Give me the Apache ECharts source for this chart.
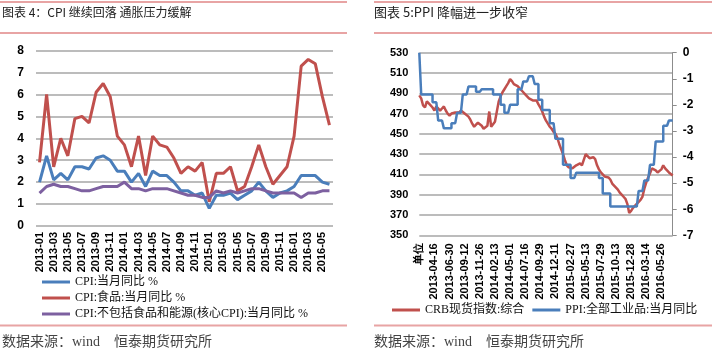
<!DOCTYPE html>
<html>
<head>
    <meta charset="utf-8">
    <title>CPI继续回落 / PPI降幅收窄</title>
    <script src="https://cdn.jsdelivr.net/npm/echarts@6/dist/echarts.min.js"></script>
    <style>
        html, body { margin: 0; padding: 0; background: #fff; }
        #chart { width: 712px; height: 354px; }
    </style>
</head>
<body>
<div id="chart"></div>
<script type="text/javascript">
    // 图表4：CPI 月度数据
    var cpiMonths = ['2013-01','2013-02','2013-03','2013-04','2013-05','2013-06','2013-07','2013-08','2013-09','2013-10','2013-11','2013-12',
        '2014-01','2014-02','2014-03','2014-04','2014-05','2014-06','2014-07','2014-08','2014-09','2014-10','2014-11','2014-12',
        '2015-01','2015-02','2015-03','2015-04','2015-05','2015-06','2015-07','2015-08','2015-09','2015-10','2015-11','2015-12',
        '2016-01','2016-02','2016-03','2016-04','2016-05','2016-06'];
    var cpiAll = [2.0,3.2,2.1,2.4,2.1,2.7,2.7,2.6,3.1,3.2,3.0,2.5, 2.5,2.0,2.4,1.8,2.5,2.3,2.3,2.0,1.6,1.6,1.4,1.5,
        0.8,1.4,1.4,1.5,1.2,1.4,1.6,2.0,1.6,1.3,1.5,1.6, 1.8,2.3,2.3,2.3,2.0,1.9];
    var cpiFood = [2.9,6.0,2.7,4.0,3.2,4.9,5.0,4.7,6.1,6.5,5.9,4.1, 3.7,2.7,4.1,2.3,4.1,3.7,3.6,3.1,2.4,2.7,2.5,2.9,
        1.1,2.4,2.4,2.7,1.6,1.8,2.7,3.7,2.7,1.9,2.3,2.7, 4.1,7.3,7.6,7.4,5.9,4.6];
    var cpiCore = [1.5,1.8,1.9,1.8,1.8,1.7,1.6,1.6,1.7,1.8,1.8,1.8, 2.0,1.7,1.7,1.6,1.7,1.7,1.7,1.6,1.5,1.4,1.4,1.3,
        1.3,1.6,1.5,1.6,1.5,1.6,1.7,1.7,1.6,1.5,1.5,1.5, 1.5,1.3,1.5,1.5,1.6,1.6];

    // 图表5：CRB 日度(抽样) 与 PPI
    var crbTicks = ['单位','2013-04-16','2013-06-30','2013-09-12','2013-11-26','2014-02-13','2014-05-01','2014-07-16',
        '2014-09-29','2014-12-11','2015-02-27','2015-05-13','2015-07-29','2015-10-13','2015-12-28','2016-03-14','2016-05-26'];
    var crbValues = [
        488,485,478,476,482,480,478,476,473,477, 476,473,475,477,473,470,468,470,469,471,
        470,471,473,472,470,469,467,464,460,457, 459,461,462,458,455,456,458,472,457,458,
        462,472,482,487,491,494,497,500,504,502, 499,500,497,498,493,491,489,487,485,484,
        483,484,483,479,476,472,467,463,460,457, 455,452,450,446,440,435,430,424,419,417,
        418,416,417,419,419,421,419,420,430,428, 426,427,427,425,419,415,412,410,408,409,
        407,405,401,399,397,395,392,390,388,386, 381,372,374,377,379,381,383,385,388,396,
        402,407,411,416,417,414,412,411,415,419, 416,414,412,411,409];
    var ppiValues = [
        0,-1.6,-1.6,-1.6,-1.6,-1.6,-1.6,-1.9,-1.9,-1.9, -2.6,-2.6,-2.6,-2.9,-2.9,-2.9,-2.9,-2.7,-2.7,-2.7,
        -2.3,-2.3,-2.3,-1.6,-1.6,-1.6,-1.3,-1.3,-1.3,-1.3, -1.5,-1.5,-1.5,-1.4,-1.4,-1.4,-1.4,-1.4,-1.4,-1.6,
        -1.6,-1.6,-1.6,-2.0,-2.0,-2.3,-2.3,-2.3,-2.0,-2.0, -2.0,-2.0,-1.4,-1.4,-1.4,-1.1,-1.1,-1.1,-0.9,-0.9,
        -0.9,-1.2,-1.2,-1.8,-1.8,-2.2,-2.2,-2.2,-2.2,-2.7, -2.7,-2.7,-3.3,-3.3,-3.3,-3.3,-4.3,-4.3,-4.3,-4.3,
        -4.8,-4.8,-4.8,-4.6,-4.6,-4.6,-4.6,-4.6,-4.6,-4.6, -4.6,-4.6,-4.6,-4.6,-4.6,-4.8,-4.8,-5.4,-5.4,-5.4,
        -5.4,-5.9,-5.9,-5.9,-5.9,-5.9,-5.9,-5.9,-5.9,-5.9, -5.9,-5.9,-5.9,-5.9,-5.9,-5.9,-5.3,-5.3,-5.3,-4.9,
        -4.9,-4.9,-4.3,-4.3,-4.3,-3.4,-3.4,-3.4,-3.4,-2.8, -2.8,-2.8,-2.6,-2.6,-2.6];
    var crbBase = 350;   // 左轴从350起，每格20
    var crbStep = 8;     // 每个刻度标签之间的点数

    var crbCats = crbValues.map(function (v, i) {
        return i % crbStep === 0 ? crbTicks[i / crbStep] : '';
    });

    var blue = '#4a7ebb', red = '#c0504d', purple = '#7d60a0';
    var gridGray = '#a6a6a6';
    var numFont = 'Liberation Sans';
    var cnFont = '"Liberation Serif", "Noto Sans CJK SC"';

    var myChart = echarts.init(document.getElementById('chart'));

    function pinkLine(x1, x2, y) {
        return { type: 'line', shape: { x1: x1, y1: y, x2: x2, y2: y }, style: { stroke: '#e8a4a4', lineWidth: 2 } };
    }

    myChart.setOption({
        animation: false,
        title: [
            { text: '图表 4：CPI 继续回落 通胀压力缓解', left: 2, top: 6, padding: 0,
              textStyle: { fontSize: 12, fontWeight: 'normal', color: '#222', fontFamily: 'Noto Sans CJK SC' } },
            { text: '图表 5:PPI 降幅进一步收窄', left: 374, top: 6, padding: 0,
              textStyle: { fontSize: 13, fontWeight: 'normal', color: '#222', fontFamily: 'Noto Sans CJK SC' } },
            { text: '数据来源：wind    恒泰期货研究所', left: 2, top: 335, padding: 0,
              textStyle: { fontSize: 14, fontWeight: 'normal', color: '#444', fontFamily: cnFont } },
            { text: '数据来源：wind    恒泰期货研究所', left: 374, top: 335, padding: 0,
              textStyle: { fontSize: 14, fontWeight: 'normal', color: '#444', fontFamily: cnFont } }
        ],
        graphic: [
            pinkLine(0, 347, 2), pinkLine(0, 347, 33), pinkLine(0, 347, 325.5),
            pinkLine(374, 712, 2), pinkLine(374, 712, 33), pinkLine(374, 712, 325.5)
        ],
        legend: [
            { data: ['CPI:当月同比 %', 'CPI:食品:当月同比 %', 'CPI:不包括食品和能源(核心CPI):当月同比 %'],
              orient: 'vertical', left: 42, top: 275, padding: 0, icon: 'rect', itemWidth: 28, itemHeight: 3, itemGap: 2,
              textStyle: { fontSize: 12, lineHeight: 14, color: '#111', fontFamily: cnFont } },
            { data: ['CRB现货指数:综合', 'PPI:全部工业品:当月同比'],
              orient: 'horizontal', left: 392, top: 303, padding: 0, icon: 'rect', itemWidth: 28, itemHeight: 3, itemGap: 8,
              textStyle: { fontSize: 12, lineHeight: 14, color: '#111', fontFamily: cnFont } }
        ],
        grid: [
            { left: 36, top: 50.7, width: 297, height: 175.2 },
            { left: 419.3, top: 52.7, width: 253.4, height: 182.6 }
        ],
        xAxis: [
            { type: 'category', gridIndex: 0, data: cpiMonths, boundaryGap: true,
              axisLine: { show: false }, axisTick: { show: false },
              axisLabel: { interval: 1, rotate: 90, margin: 6, fontSize: 11, fontWeight: 'bold', color: '#000', fontFamily: numFont } },
            { type: 'category', gridIndex: 1, data: crbCats, boundaryGap: false,
              axisLine: { show: false }, axisTick: { show: false },
              axisLabel: { interval: crbStep - 1, rotate: 90, margin: 8, fontSize: 11, fontWeight: 'bold', color: '#000', fontFamily: numFont } }
        ],
        yAxis: [
            { type: 'value', gridIndex: 0, min: 0, max: 8, interval: 1,
              axisLine: { show: false }, axisTick: { show: false },
              axisLabel: { margin: 12, fontSize: 12, fontWeight: 'bold', color: '#000', fontFamily: numFont },
              splitLine: { lineStyle: { color: gridGray, width: 1.5 } } },
            { type: 'value', gridIndex: 1, position: 'left', min: 0, max: 180, interval: 20,
              axisLine: { show: false }, axisTick: { show: false },
              axisLabel: { margin: 11, fontSize: 11, fontWeight: 'bold', color: '#000', fontFamily: numFont,
                  formatter: function (v) { return v + crbBase; } },
              splitLine: { lineStyle: { color: gridGray, width: 1.5 } } },
            { type: 'value', gridIndex: 1, position: 'right', min: -7, max: 0, interval: 1,
              axisLine: { show: true, lineStyle: { color: '#8c8c8c', width: 1 } },
              axisTick: { show: true, inside: false, length: 4, lineStyle: { color: '#8c8c8c' } },
              axisLabel: { margin: 10, fontSize: 12, fontWeight: 'bold', color: '#000', fontFamily: numFont },
              splitLine: { show: false } }
        ],
        series: [
            { name: 'CPI:当月同比 %', type: 'line', xAxisIndex: 0, yAxisIndex: 0, data: cpiAll,
              symbol: 'none', color: blue, lineStyle: { width: 3 } },
            { name: 'CPI:食品:当月同比 %', type: 'line', xAxisIndex: 0, yAxisIndex: 0, data: cpiFood,
              symbol: 'none', color: red, lineStyle: { width: 3 } },
            { name: 'CPI:不包括食品和能源(核心CPI):当月同比 %', type: 'line', xAxisIndex: 0, yAxisIndex: 0, data: cpiCore,
              symbol: 'none', color: purple, lineStyle: { width: 3 } },
            { name: 'CRB现货指数:综合', type: 'line', xAxisIndex: 1, yAxisIndex: 1,
              data: crbValues.map(function (v) { return v - crbBase; }),
              symbol: 'none', color: red, lineStyle: { width: 2.5 } },
            { name: 'PPI:全部工业品:当月同比', type: 'line', xAxisIndex: 1, yAxisIndex: 2, data: ppiValues,
              step: 'end', symbol: 'none', color: blue, lineStyle: { width: 2.5 } }
        ]
    });
</script>
</body>
</html>
